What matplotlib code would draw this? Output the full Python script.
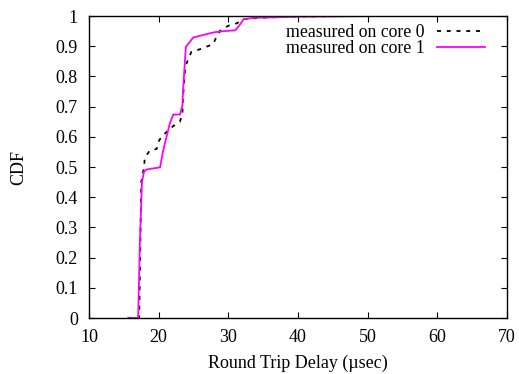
import matplotlib
matplotlib.use("Agg")
import matplotlib.pyplot as plt

plt.rcParams['font.family'] = ['Liberation Serif', 'DejaVu Serif']

# core 0 (black dotted)
core0_x = [15.6, 17.2, 17.4, 17.5, 17.9, 18.0, 18.7, 19.7, 20.1, 20.9, 22.1, 23.05, 23.4, 23.5,
           23.8, 24.7, 25.9, 27.8, 28.3, 28.8, 30.0, 31.2, 32.2, 35.0, 40.0, 50.0, 70.0]
core0_y = [0.0, 0.0, 0.30, 0.45, 0.50, 0.53, 0.554, 0.56, 0.59, 0.611, 0.636, 0.65, 0.678, 0.733,
           0.832, 0.882, 0.89, 0.907, 0.931, 0.951, 0.968, 0.976, 0.99, 0.995, 0.999, 1.0, 1.0]

# core 1 (magenta)
core1_x = [15.6, 17.05, 17.3, 17.6, 17.9, 18.26, 20.2, 20.6, 21.6, 22.1, 23.05, 23.4, 23.5, 23.9,
           24.96, 25.97, 27.9, 28.8, 31.0, 31.7, 32.2, 33.6, 40.0, 50.0, 70.0]
core1_y = [0.0, 0.0, 0.25, 0.45, 0.485, 0.492, 0.499, 0.55, 0.645, 0.674, 0.674, 0.703, 0.755, 0.898,
           0.929, 0.935, 0.946, 0.949, 0.953, 0.973, 0.99, 0.994, 0.998, 1.0, 1.0]

labels = ['measured on core 0', 'measured on core 1']
xticks = [10, 20, 30, 40, 50, 60, 70]
yticks = [0, 0.1, 0.2, 0.3, 0.4, 0.5, 0.6, 0.7, 0.8, 0.9, 1]

fig = plt.figure(figsize=(5.19, 3.74), dpi=100)
ax = fig.add_axes([0.1715, 0.1497, 0.8055, 0.8073])

ax.plot(core0_x, core0_y, color='black', linestyle=(0, (2.2, 3.2)), linewidth=1.3, label=labels[0])
ax.plot(core1_x, core1_y, color='#ff00ff', linestyle='-', linewidth=1.3, label=labels[1])

ax.set_xlim(10, 70)
ax.set_ylim(0, 1)
ax.set_xticks(xticks)
ax.set_xticklabels([str(t) for t in xticks])
ax.set_yticks(yticks)
ax.set_yticklabels(['0', '0.1', '0.2', '0.3', '0.4', '0.5', '0.6', '0.7', '0.8', '0.9', '1'])
ax.tick_params(direction='in', top=True, right=True, labelsize=13, length=4, width=0.8)
ax.tick_params(axis='x', pad=8)
ax.tick_params(axis='y', pad=8)
for s in ax.spines.values():
    s.set_linewidth(1.0)

ax.set_xlabel('Round Trip Delay (\u00b5sec)', fontsize=13, labelpad=6)
ax.set_ylabel('CDF', fontsize=13, labelpad=20)

leg = ax.legend(loc='upper right', frameon=False, markerfirst=False, fontsize=12.8,
                handlelength=2.7, handletextpad=0.7, borderaxespad=0.0, labelspacing=-0.05,
                bbox_to_anchor=(0.964, 0.997))

fig.savefig('out.png', dpi=100)
